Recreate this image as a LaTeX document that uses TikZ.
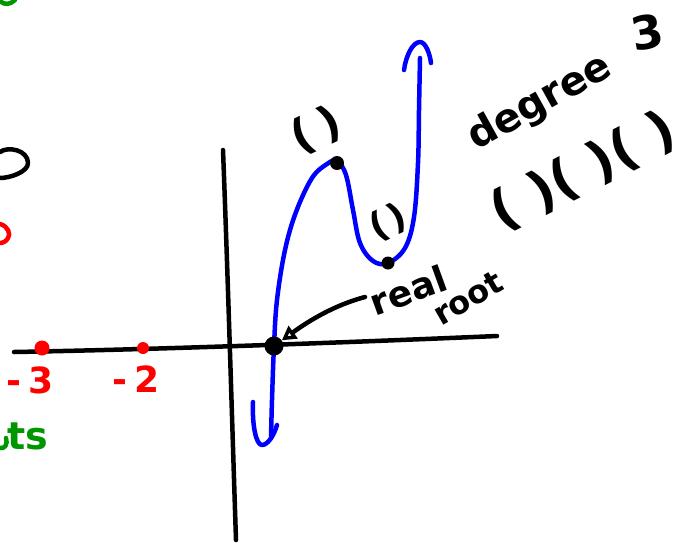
\documentclass[tikz,border=0pt]{standalone}
\usepackage{fontspec}
\setmainfont{DejaVu Sans}
\usetikzlibrary{arrows.meta}
\definecolor{inkgreen}{RGB}{0,150,0}
\begin{document}
\begin{tikzpicture}[x=1pt,y=-1pt, line cap=round, line join=round,
  axis/.style={line width=4.5pt, black},
  curve/.style={line width=4.5pt, blue},
  ink/.style={line width=4.5pt},
  lab/.style={inner sep=0pt, font=\bfseries},
  dot/.style={circle, fill, inner sep=0pt}]
\useasboundingbox (0,0) rectangle (688,542);

% axes
\draw[axis] (14,352) .. controls (180,349) and (380,341) .. (497,336);
\draw[axis] (223,150) .. controls (228,280) and (232,420) .. (236,540);

% blue cubic
\draw[curve] plot[smooth, tension=0.6] coordinates {(271,438) (272,400) (274,346) (277,300) (285,250) (296,212) (312,178) (327,164) (337,161) (346,175) (353,210) (360,243) (373,261) (388,263) (405,248) (414,217) (418,163) (419,110) (420,58)};
\draw[curve] (253,402) .. controls (252,425) and (256,445) .. (262,445) .. controls (268,445) and (274,435) .. (277,425);
\draw[curve] (404,70) .. controls (406,55) and (413,42) .. (420,42) .. controls (426,42) and (430,55) .. (431,63);

% points
\node[dot, minimum width=19pt] (root) at (274,346) {};
\node[dot, minimum width=14pt] (max) at (337,163) {};
\node[dot, minimum width=13pt] (min) at (388,263) {};
\node[dot, red, minimum width=15pt] (m3) at (42,348) {};
\node[dot, red, minimum width=12pt] (m2) at (143,348) {};

% tick labels
\node[lab, red, font=\bfseries\fontsize{36}{36}\selectfont] (l3) at (30,380) {-\hspace{8pt}3};
\node[lab, red, font=\bfseries\fontsize{36}{36}\selectfont] (l2) at (136,379) {-\hspace{8pt}2};

% factor labels at turning points
\node[lab, rotate=25, font=\bfseries\fontsize{44}{44}\selectfont] (pmax) at (316,130) {(\hspace{10pt})};
\node[lab, rotate=25, font=\bfseries\fontsize{36}{36}\selectfont] (pmin) at (388,222) {(\hspace{4pt})};

% real root
\node[lab, rotate=20, font=\bfseries\fontsize{36}{36}\selectfont] (real) at (408,290) {real};
\node[lab, rotate=30, font=\bfseries\fontsize{32}{32}\selectfont] (rootl) at (468,298) {root};
\coordinate (rstart) at (365,297);
\draw[ink, -{Triangle[open, length=14pt, width=15pt, line width=3.5pt]}] (rstart) .. controls (335,305) and (310,320) .. (root);

% degree 3
\node[lab, rotate=29, font=\bfseries\fontsize{40}{40}\selectfont] (deg) at (540,103) {degree};
\node[lab, rotate=10, font=\bfseries\fontsize{46}{46}\selectfont] (three) at (647,32) {3};
\node[lab, rotate=27, font=\bfseries\fontsize{52}{52}\selectfont] (facs) at (583,171) {(\hspace{19pt})(\hspace{19pt})(\hspace{19pt})};

% cut-off marks at left edge
\draw[ink] (0,152) .. controls (8,146) and (28,150) .. (28,163) .. controls (28,172) and (10,178) .. (0,178);
\draw[ink, red] (0,224) .. controls (8,226) and (11,234) .. (8,238) .. controls (6,242) and (2,243) .. (0,243);
\draw[ink, inkgreen] (0,1) .. controls (4,5) and (10,5) .. (15,0);
\draw[ink, inkgreen] (0,448) .. controls (5,449) and (8,444) .. (6,438);
\node[lab, inkgreen, anchor=base west, font=\bfseries\fontsize{38}{38}\selectfont] (sts) at (7,449) {ts};
\end{tikzpicture}
\end{document}
